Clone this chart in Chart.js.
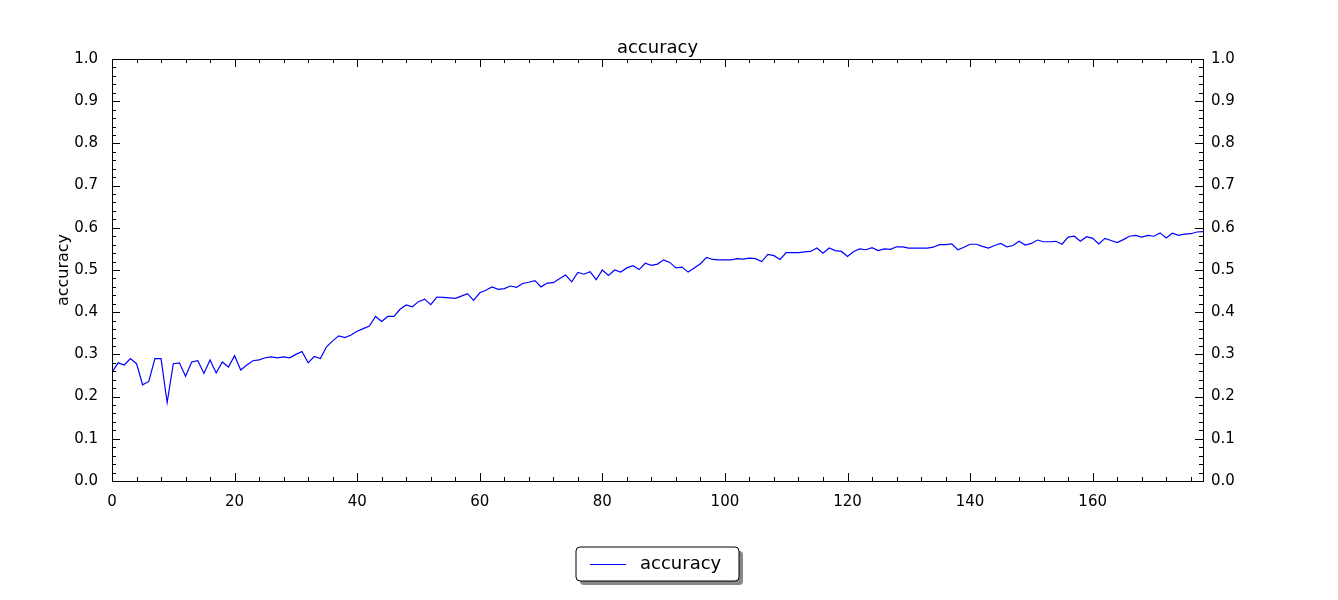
<!DOCTYPE html>
<html>
<head>
<meta charset="utf-8">
<script src="https://cdn.jsdelivr.net/npm/chart.js@4"></script>
<style>
  body { margin: 0; background: #fff; }
  #wrap { width: 1338px; height: 600px; }
</style>
</head>
<body>
<div id="wrap"><canvas id="acc-chart"></canvas></div>
<script>
const epochs = [];
const accuracy = [
    0.258, 0.28, 0.275, 0.29, 0.278, 0.228, 0.236, 0.29, 0.29, 0.186,
    0.278, 0.28, 0.248, 0.282, 0.285, 0.255, 0.287, 0.256, 0.282, 0.27,
    0.297, 0.263, 0.275, 0.285, 0.287, 0.292, 0.294, 0.292, 0.294, 0.292,
    0.3, 0.307, 0.28, 0.295, 0.29, 0.318, 0.332, 0.344, 0.34, 0.346,
    0.355, 0.361, 0.367, 0.39, 0.378, 0.39, 0.39, 0.407, 0.417, 0.413,
    0.425, 0.431, 0.418, 0.436, 0.435, 0.434, 0.433, 0.438, 0.444, 0.428,
    0.446, 0.452, 0.46, 0.454, 0.456, 0.462, 0.459, 0.468, 0.471, 0.475,
    0.46, 0.469, 0.47, 0.479, 0.488, 0.472, 0.494, 0.49, 0.496, 0.477,
    0.5, 0.487, 0.5, 0.495, 0.505, 0.51, 0.501, 0.516, 0.511, 0.514,
    0.524, 0.518, 0.505, 0.507, 0.495, 0.505, 0.515, 0.53, 0.525, 0.524,
    0.524, 0.524, 0.527, 0.526, 0.528, 0.527, 0.52, 0.537, 0.534, 0.525,
    0.541, 0.541, 0.541, 0.543, 0.544, 0.552, 0.54, 0.552, 0.546, 0.544,
    0.532, 0.544, 0.55, 0.548, 0.553, 0.546, 0.55, 0.549, 0.555, 0.555,
    0.552, 0.552, 0.552, 0.552, 0.554, 0.56, 0.56, 0.562, 0.548, 0.554,
    0.561, 0.561, 0.556, 0.552, 0.558, 0.563, 0.555, 0.558, 0.568, 0.559,
    0.563, 0.571, 0.567, 0.567, 0.568, 0.561, 0.578, 0.58, 0.568, 0.579,
    0.575, 0.562, 0.575, 0.57, 0.565, 0.572, 0.58, 0.582, 0.578, 0.582,
    0.58, 0.588, 0.576, 0.587, 0.582, 0.585, 0.586, 0.59, 0.591
];
for (let i = 0; i < accuracy.length; i++) epochs.push(i);

const xMax = 178;
const seriesLabel = 'accuracy';
const chartTitle = 'accuracy';
const yTitle = 'accuracy';

const FONT = '"DejaVu Sans", sans-serif';

// matplotlib-like frame: inward ticks on all sides, titles, boxed legend
const framePlugin = {
    id: 'frame',
    afterDraw(chart) {
        const { ctx, chartArea: a, scales } = chart;
        ctx.save();
        ctx.strokeStyle = '#000';
        ctx.lineWidth = 1;
        ctx.strokeRect(a.left + 0.5, a.top + 0.5, a.right - a.left, a.bottom - a.top);

        ctx.beginPath();
        for (let v = 0; v <= 1.0001; v += 0.02) {
            const y = Math.round(scales.y.getPixelForValue(v)) + 0.5;
            const major = Math.abs(v * 10 - Math.round(v * 10)) < 1e-6;
            const len = major ? 8 : 4;
            ctx.moveTo(a.left, y); ctx.lineTo(a.left + len, y);
            ctx.moveTo(a.right, y); ctx.lineTo(a.right - len, y);
        }
        for (let v = 0; v <= xMax; v += 4) {
            const x = Math.round(scales.x.getPixelForValue(v)) + 0.5;
            const len = v % 20 === 0 ? 8 : 4;
            ctx.moveTo(x, a.bottom); ctx.lineTo(x, a.bottom - len);
            ctx.moveTo(x, a.top); ctx.lineTo(x, a.top + len);
        }
        ctx.stroke();

        ctx.fillStyle = '#000';
        ctx.font = '18px ' + FONT;
        ctx.textAlign = 'center';
        ctx.textBaseline = 'alphabetic';
        ctx.fillText(chartTitle, (a.left + a.right) / 2, 53);

        ctx.save();
        ctx.translate(64, (a.top + a.bottom) / 2);
        ctx.rotate(-Math.PI / 2);
        ctx.font = '16px ' + FONT;
        ctx.textBaseline = 'middle';
        ctx.fillText(yTitle, 0, 0);
        ctx.restore();

        // legend box
        const bx = 576, by = 547, bw = 163, bh = 34;
        ctx.fillStyle = '#888';
        ctx.beginPath();
        ctx.roundRect(bx + 4, by + 4, bw, bh, 4);
        ctx.fill();
        ctx.fillStyle = '#fff';
        ctx.beginPath();
        ctx.roundRect(bx, by, bw, bh, 4);
        ctx.fill();
        ctx.stroke();
        ctx.strokeStyle = '#0000ff';
        ctx.beginPath();
        ctx.moveTo(590, 564.5); ctx.lineTo(626, 564.5);
        ctx.stroke();
        ctx.fillStyle = '#000';
        ctx.textAlign = 'left';
        ctx.textBaseline = 'middle';
        ctx.font = '18px ' + FONT;
        ctx.fillText(seriesLabel, 640, 564);
        ctx.restore();
    }
};

const tickFont = { family: FONT, size: 15 };

new Chart(document.getElementById('acc-chart'), {
    type: 'line',
    data: {
        datasets: [{
            label: seriesLabel,
            data: epochs.map((e, i) => ({ x: e, y: accuracy[i] })),
            borderColor: '#0000ff',
            borderWidth: 1.2,
            pointRadius: 0,
            tension: 0,
            fill: false
        }]
    },
    options: {
        responsive: true,
        maintainAspectRatio: false,
        animation: false,
        layout: { padding: { top: 59, left: 0, right: 0, bottom: 0 } },
        plugins: { legend: { display: false }, title: { display: false }, tooltip: { enabled: false } },
        scales: {
            x: {
                type: 'linear',
                min: 0,
                max: xMax,
                grid: { display: false },
                border: { display: false },
                afterFit(s) { s.height = 119; },
                ticks: {
                    stepSize: 20, color: '#000', font: tickFont, padding: 4, maxRotation: 0,
                    callback: v => (v % 20 === 0 ? v : '')
                }
            },
            y: {
                position: 'left',
                min: 0,
                max: 1,
                grid: { display: false },
                border: { display: false },
                afterFit(s) { s.width = 112; },
                ticks: { stepSize: 0.1, color: '#000', font: tickFont, padding: 6, callback: v => v.toFixed(1) }
            },
            y2: {
                position: 'right',
                min: 0,
                max: 1,
                grid: { display: false },
                border: { display: false },
                afterFit(s) { s.width = 135; },
                ticks: { stepSize: 0.1, color: '#000', font: tickFont, padding: 0, callback: v => v.toFixed(1) }
            }
        }
    },
    plugins: [framePlugin]
});
</script>
</body>
</html>
